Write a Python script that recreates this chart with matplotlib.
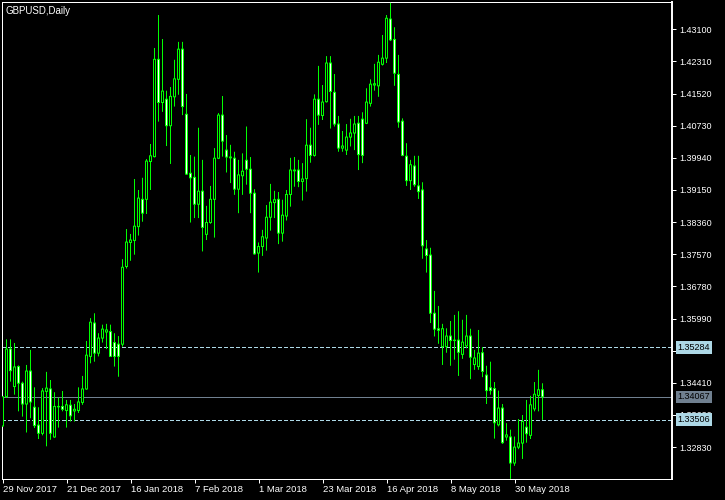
import matplotlib
matplotlib.use("Agg")
import matplotlib.pyplot as plt
import matplotlib.transforms as mtrans
import numpy as np

plt.rcParams['font.family'] = ['Liberation Sans', 'DejaVu Sans']

title = "GBPUSD,Daily"

opens = [1.3335, 1.3407, 1.3524, 1.3432, 1.3481, 1.3440, 1.3389, 1.3470, 1.3381, 1.3337,
         1.3317, 1.3420, 1.3426, 1.3308, 1.3383, 1.3383, 1.3373, 1.3386, 1.3372, 1.3373,
         1.3393, 1.3426, 1.3506, 1.3588, 1.3514, 1.3551, 1.3566, 1.3567, 1.3540, 1.3536,
         1.3536, 1.3727, 1.3786, 1.3791, 1.3825, 1.3892, 1.3892, 1.3985, 1.3997, 1.4236,
         1.4130, 1.4138, 1.4073, 1.4144, 1.4187, 1.4261, 1.4101, 1.3956, 1.3946, 1.3880,
         1.3912, 1.3806, 1.3835, 1.3892, 1.3993, 1.4099, 1.4013, 1.3996, 1.3993, 1.3917,
         1.3950, 1.3988, 1.3966, 1.3907, 1.3760, 1.3776, 1.3797, 1.3848, 1.3884, 1.3892,
         1.3809, 1.3851, 1.3904, 1.3962, 1.3964, 1.3936, 1.3943, 1.4025, 1.4000, 1.4138,
         1.4098, 1.4132, 1.4227, 1.4155, 1.4077, 1.4018, 1.4013, 1.4045, 1.4055, 1.4079,
         1.4089, 1.4079, 1.4128, 1.4173, 1.4171, 1.4224, 1.4239, 1.4335, 1.4285, 1.4199,
         1.4084, 1.3998, 1.3938, 1.3974, 1.3925, 1.3915, 1.3770, 1.3755, 1.3612, 1.3574,
         1.3530, 1.3530, 1.3556, 1.3546, 1.3546, 1.3511, 1.3532, 1.3556, 1.3486, 1.3481,
         1.3515, 1.3460, 1.3429, 1.3427, 1.3338, 1.3379, 1.3308, 1.3308, 1.3244, 1.3283,
         1.3293, 1.3332, 1.3312, 1.3377, 1.3410, 1.3424]
highs = [1.3408, 1.3548, 1.3548, 1.3539, 1.3484, 1.3444, 1.3485, 1.3522, 1.3430, 1.3381,
         1.3428, 1.3468, 1.3448, 1.3418, 1.3405, 1.3421, 1.3399, 1.3399, 1.3389, 1.3430,
         1.3458, 1.3544, 1.3600, 1.3612, 1.3563, 1.3584, 1.3586, 1.3584, 1.3563, 1.3556,
         1.3745, 1.3819, 1.3807, 1.3942, 1.3915, 1.3945, 1.3991, 1.4028, 1.4264, 1.4345,
         1.4286, 1.4159, 1.4168, 1.4235, 1.4279, 1.4279, 1.4151, 1.4001, 1.3997, 1.4068,
         1.3989, 1.3876, 1.3925, 1.4018, 1.4104, 1.4146, 1.4050, 1.4026, 1.4009, 1.3989,
         1.4005, 1.4071, 1.3996, 1.3917, 1.3786, 1.3817, 1.3878, 1.3930, 1.3913, 1.3910,
         1.3891, 1.3915, 1.3994, 1.3996, 1.3989, 1.3981, 1.4089, 1.4068, 1.4150, 1.4220,
         1.4173, 1.4244, 1.4244, 1.4200, 1.4097, 1.4060, 1.4077, 1.4090, 1.4097, 1.4097,
         1.4106, 1.4165, 1.4187, 1.4225, 1.4247, 1.4296, 1.4345, 1.4375, 1.4315, 1.4247,
         1.4091, 1.4030, 1.3989, 1.3999, 1.3999, 1.3934, 1.3792, 1.3773, 1.3667, 1.3630,
         1.3586, 1.3575, 1.3593, 1.3608, 1.3617, 1.3596, 1.3608, 1.3574, 1.3522, 1.3571,
         1.3529, 1.3483, 1.3493, 1.3443, 1.3422, 1.3389, 1.3342, 1.3326, 1.3309, 1.3352,
         1.3362, 1.3399, 1.3409, 1.3443, 1.3473, 1.3440]
lows = [1.3333, 1.3404, 1.3444, 1.3412, 1.3371, 1.3358, 1.3319, 1.3354, 1.3330, 1.3303,
        1.3312, 1.3285, 1.3301, 1.3306, 1.3331, 1.3371, 1.3331, 1.3346, 1.3346, 1.3367,
        1.3387, 1.3424, 1.3489, 1.3493, 1.3506, 1.3540, 1.3524, 1.3505, 1.3481, 1.3456,
        1.3530, 1.3722, 1.3741, 1.3756, 1.3803, 1.3837, 1.3856, 1.3915, 1.3995, 1.4083,
        1.4107, 1.4023, 1.3979, 1.4120, 1.4149, 1.4099, 1.3952, 1.3835, 1.3846, 1.3846,
        1.3764, 1.3792, 1.3832, 1.3798, 1.3991, 1.3997, 1.3958, 1.3932, 1.3903, 1.3858,
        1.3903, 1.3928, 1.3858, 1.3756, 1.3712, 1.3753, 1.3766, 1.3815, 1.3846, 1.3782,
        1.3788, 1.3840, 1.3874, 1.3923, 1.3922, 1.3889, 1.3911, 1.3982, 1.3997, 1.4075,
        1.4087, 1.4130, 1.4066, 1.4071, 1.4009, 1.4009, 1.4001, 1.4022, 1.4013, 1.3964,
        1.3981, 1.4077, 1.4120, 1.4159, 1.4144, 1.4221, 1.4227, 1.4281, 1.4171, 1.4068,
        1.3998, 1.3925, 1.3915, 1.3923, 1.3893, 1.3746, 1.3712, 1.3588, 1.3555, 1.3537,
        1.3485, 1.3515, 1.3483, 1.3498, 1.3458, 1.3500, 1.3526, 1.3450, 1.3473, 1.3473,
        1.3455, 1.3389, 1.3412, 1.3304, 1.3334, 1.3291, 1.3299, 1.3205, 1.3237, 1.3278,
        1.3254, 1.3294, 1.3303, 1.3371, 1.3371, 1.3350]
closes = [1.3407, 1.3524, 1.3471, 1.3480, 1.3440, 1.3389, 1.3470, 1.3394, 1.3336, 1.3317,
          1.3421, 1.3428, 1.3317, 1.3383, 1.3382, 1.3376, 1.3387, 1.3360, 1.3376, 1.3394,
          1.3426, 1.3509, 1.3590, 1.3514, 1.3551, 1.3573, 1.3571, 1.3506, 1.3506, 1.3506,
          1.3725, 1.3787, 1.3792, 1.3826, 1.3895, 1.3858, 1.3986, 1.3999, 1.4236, 1.4130,
          1.4158, 1.4073, 1.4145, 1.4188, 1.4261, 1.4120, 1.3954, 1.3945, 1.3880, 1.3912,
          1.3823, 1.3835, 1.3892, 1.3993, 1.4099, 1.4035, 1.3996, 1.3994, 1.3917, 1.3952,
          1.3961, 1.3966, 1.3907, 1.3758, 1.3776, 1.3800, 1.3848, 1.3885, 1.3891, 1.3809,
          1.3853, 1.3904, 1.3964, 1.3964, 1.3936, 1.3942, 1.4025, 1.4000, 1.4138, 1.4099,
          1.4131, 1.4227, 1.4157, 1.4077, 1.4018, 1.4023, 1.4045, 1.4055, 1.4077, 1.4002,
          1.4000, 1.4131, 1.4175, 1.4176, 1.4229, 1.4239, 1.4337, 1.4284, 1.4202, 1.4082,
          1.4000, 1.3938, 1.3977, 1.3928, 1.3911, 1.3778, 1.3754, 1.3612, 1.3573, 1.3570,
          1.3574, 1.3556, 1.3545, 1.3545, 1.3516, 1.3541, 1.3556, 1.3504, 1.3502, 1.3514,
          1.3469, 1.3422, 1.3422, 1.3343, 1.3379, 1.3294, 1.3313, 1.3244, 1.3283, 1.3293,
          1.3346, 1.3316, 1.3387, 1.3413, 1.3424, 1.34067]

date_tick_bars = [0, 16, 32, 48, 64, 80, 96, 112, 128]
date_tick_labels = ["29 Nov 2017", "21 Dec 2017", "16 Jan 2018", "7 Feb 2018", "1 Mar 2018",
                    "23 Mar 2018", "16 Apr 2018", "8 May 2018", "30 May 2018"]

price_ticks = [1.32830, 1.33620, 1.34410, 1.35200, 1.35990, 1.36780, 1.37570,
               1.38360, 1.39150, 1.39940, 1.40730, 1.41520, 1.42310, 1.43100]

level_upper = 1.35284
level_lower = 1.33506
last_price = 1.34067

GREEN = '#00FF00'
W, H = 725, 500
AX_W, AX_H = 670, 477
fig = plt.figure(figsize=(W / 100, H / 100), dpi=100, facecolor='black')
# axes spans exactly 670 px wide so one bar step is exactly 4 px
ax = fig.add_axes([2 / W, 21 / H, AX_W / W, AX_H / H], facecolor='black')

o = np.array(opens); h = np.array(highs); l = np.array(lows); c = np.array(closes)
x = np.arange(len(o))

ymin, ymax = min(lows) - 0.00003, max(highs) + 0.0002
ax.set_xlim(-0.125, 167.375)
ax.set_ylim(ymin, ymax)
dp = (ymax - ymin) / AX_H  # price span of one pixel

px = 0.72  # one pixel in points
wick = ax.vlines(x, l, h, color=GREEN, lw=px, antialiased=True, zorder=3)
wick.set_snap(False)

bottoms = np.minimum(o, c)
heights = np.abs(c - o)
faces = np.array(['white' if cc < oo else 'black' for oo, cc in zip(o, c)])
# outer green body (3 px wide, pixel aligned), then 1 px wide inner fill inset by one pixel
outer = ax.bar(x, heights + dp, bottom=bottoms - dp / 2, width=0.75, color=GREEN,
               linewidth=0, zorder=4, antialiased=True)
inner_h = heights - dp
m = inner_h > 0
inner = ax.bar(x[m], inner_h[m], bottom=bottoms[m] + dp / 2, width=0.25,
               color=list(faces[m]), linewidth=0, zorder=5, antialiased=True)
for p in list(outer) + list(inner):
    p.set_snap(False)

# horizontal levels
ax.axhline(level_upper, color='#ADD8E6', lw=px, dashes=(4, 2.5), zorder=2, antialiased=False)
ax.axhline(level_lower, color='#ADD8E6', lw=px, dashes=(4, 2.5), zorder=2, antialiased=False)
ax.axhline(last_price, color='#708090', lw=px, zorder=2, antialiased=False)

for s in ax.spines.values():
    s.set_color('white')
    s.set_linewidth(px)
ax.spines['right'].set_linewidth(1.4)

ax.set_xticks(date_tick_bars)
ax.set_xticklabels(date_tick_labels, ha='left', fontsize=6.8, color='white')
ax.tick_params(axis='x', colors='white', length=3.2, width=px, pad=1.2, direction='out')
offset = mtrans.ScaledTranslation(0.5 / 100, 0, fig.dpi_scale_trans)
for lbl in ax.get_xticklabels():
    lbl.set_transform(lbl.get_transform() + offset)

ax.yaxis.tick_right()
ax.set_yticks(price_ticks)
ax.set_yticklabels([f"{v:.5f}" for v in price_ticks], fontsize=6.5, color='white')
ax.tick_params(axis='y', colors='white', length=3.2, width=px, pad=2.0, direction='out')

# highlighted price labels (drawn over the regular tick labels, as in the terminal)
for val, fc in [(level_upper, '#ADD8E6'), (last_price, '#708090'), (level_lower, '#ADD8E6')]:
    ax.annotate(f"{val:.5f}", xy=(1.0, val), xycoords=('axes fraction', 'data'),
                xytext=(4.0, 0), textcoords='offset points', ha='left', va='center',
                fontsize=6.5, color='black', annotation_clip=False,
                bbox=dict(boxstyle='square,pad=0.2', fc=fc, ec='none'), zorder=10)

fig.text(6 / W, 1 - 6 / H, title, color='white', fontsize=7, ha='left', va='top')

fig.savefig('out.png', dpi=100, facecolor='black')
